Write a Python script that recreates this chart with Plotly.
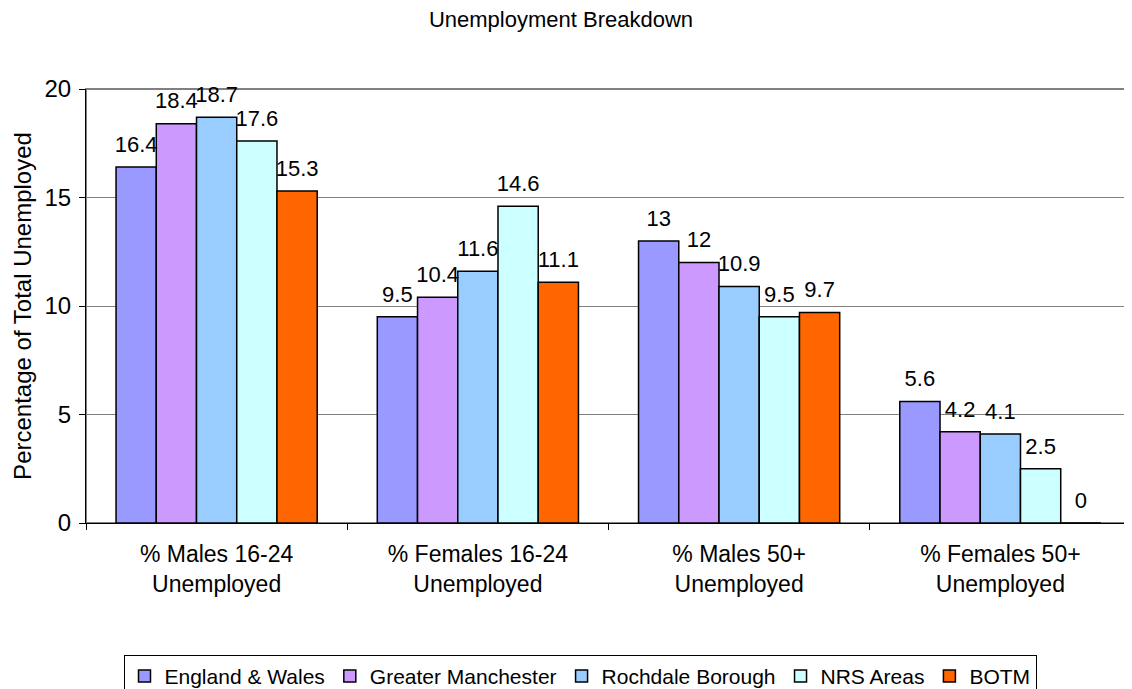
import plotly.graph_objects as go

categories = ['% Males 16-24<br>Unemployed', '% Females 16-24<br>Unemployed',
              '% Males 50+<br>Unemployed', '% Females 50+<br>Unemployed']

england_wales = [16.4, 9.5, 13, 5.6]
greater_manchester = [18.4, 10.4, 12, 4.2]
rochdale = [18.7, 11.6, 10.9, 4.1]
nrs_areas = [17.6, 14.6, 9.5, 2.5]
botm = [15.3, 11.1, 9.7, 0]

series = [
    ('England & Wales', england_wales, '#9999FF'),
    ('Greater Manchester', greater_manchester, '#CC99FF'),
    ('Rochdale Borough', rochdale, '#99CCFF'),
    ('NRS Areas', nrs_areas, '#CCFFFF'),
    ('BOTM', botm, '#FF6600'),
]

# page body has an 8px margin, so the figure is a bit smaller than the window
W, H = 1124, 681

fig = go.Figure()
for name, vals, col in series:
    fig.add_trace(go.Bar(
        x=categories, y=vals, name=name,
        marker=dict(color=col, line=dict(color='black', width=1.5)),
        hoverinfo='skip',
    ))

# value labels, grouped the same way as the bars
for name, vals, col in series:
    fig.add_trace(go.Scatter(
        x=categories, y=vals, mode='text+markers', showlegend=False,
        marker=dict(size=14, opacity=0),
        text=[f'{v:g}' for v in vals], textposition='top center',
        textfont=dict(size=22, color='black'), cliponaxis=False,
        hoverinfo='skip',
    ))

fig.add_shape(type='rect', xref='paper', yref='paper', x0=0, x1=1, y0=0, y1=1,
              line=dict(color='#808080', width=2), layer='below')

fig.update_layout(
    title=dict(text='Unemployment Breakdown', xref='container', x=553 / W,
               xanchor='center', yref='container', y=1 - 11 / H, yanchor='middle',
               font=dict(size=22, color='black')),
    font=dict(family='Liberation Sans, Arial', color='black'),
    barmode='group', bargap=0.23, bargroupgap=0,
    scattermode='group', scattergap=0.23,
    width=W, height=H,
    margin=dict(l=78, r=1, t=81, b=166, autoexpand=False),
    paper_bgcolor='white', plot_bgcolor='white',
    xaxis=dict(showline=True, linecolor='black', linewidth=1,
               ticks='outside', tickson='boundaries', ticklen=6, tickcolor='black',
               tickfont=dict(size=23), ticklabelstandoff=10, automargin=False),
    yaxis=dict(range=[0, 20], dtick=5, showgrid=True, gridcolor='#808080', gridwidth=1,
               showline=True, linecolor='black', linewidth=1,
               ticks='outside', ticklen=6, tickcolor='black', tickfont=dict(size=24),
               ticklabelstandoff=3,
               title=dict(text='Percentage of Total Unemployed', font=dict(size=24),
                          standoff=6),
               zeroline=False, automargin=False),
    legend=dict(orientation='h', xref='container', x=572 / W, xanchor='center',
                y=-0.304, yanchor='top',
                bordercolor='black', borderwidth=1, font=dict(size=21),
                itemwidth=30, traceorder='normal'),
    showlegend=True,
)

fig.write_html('out.html')
